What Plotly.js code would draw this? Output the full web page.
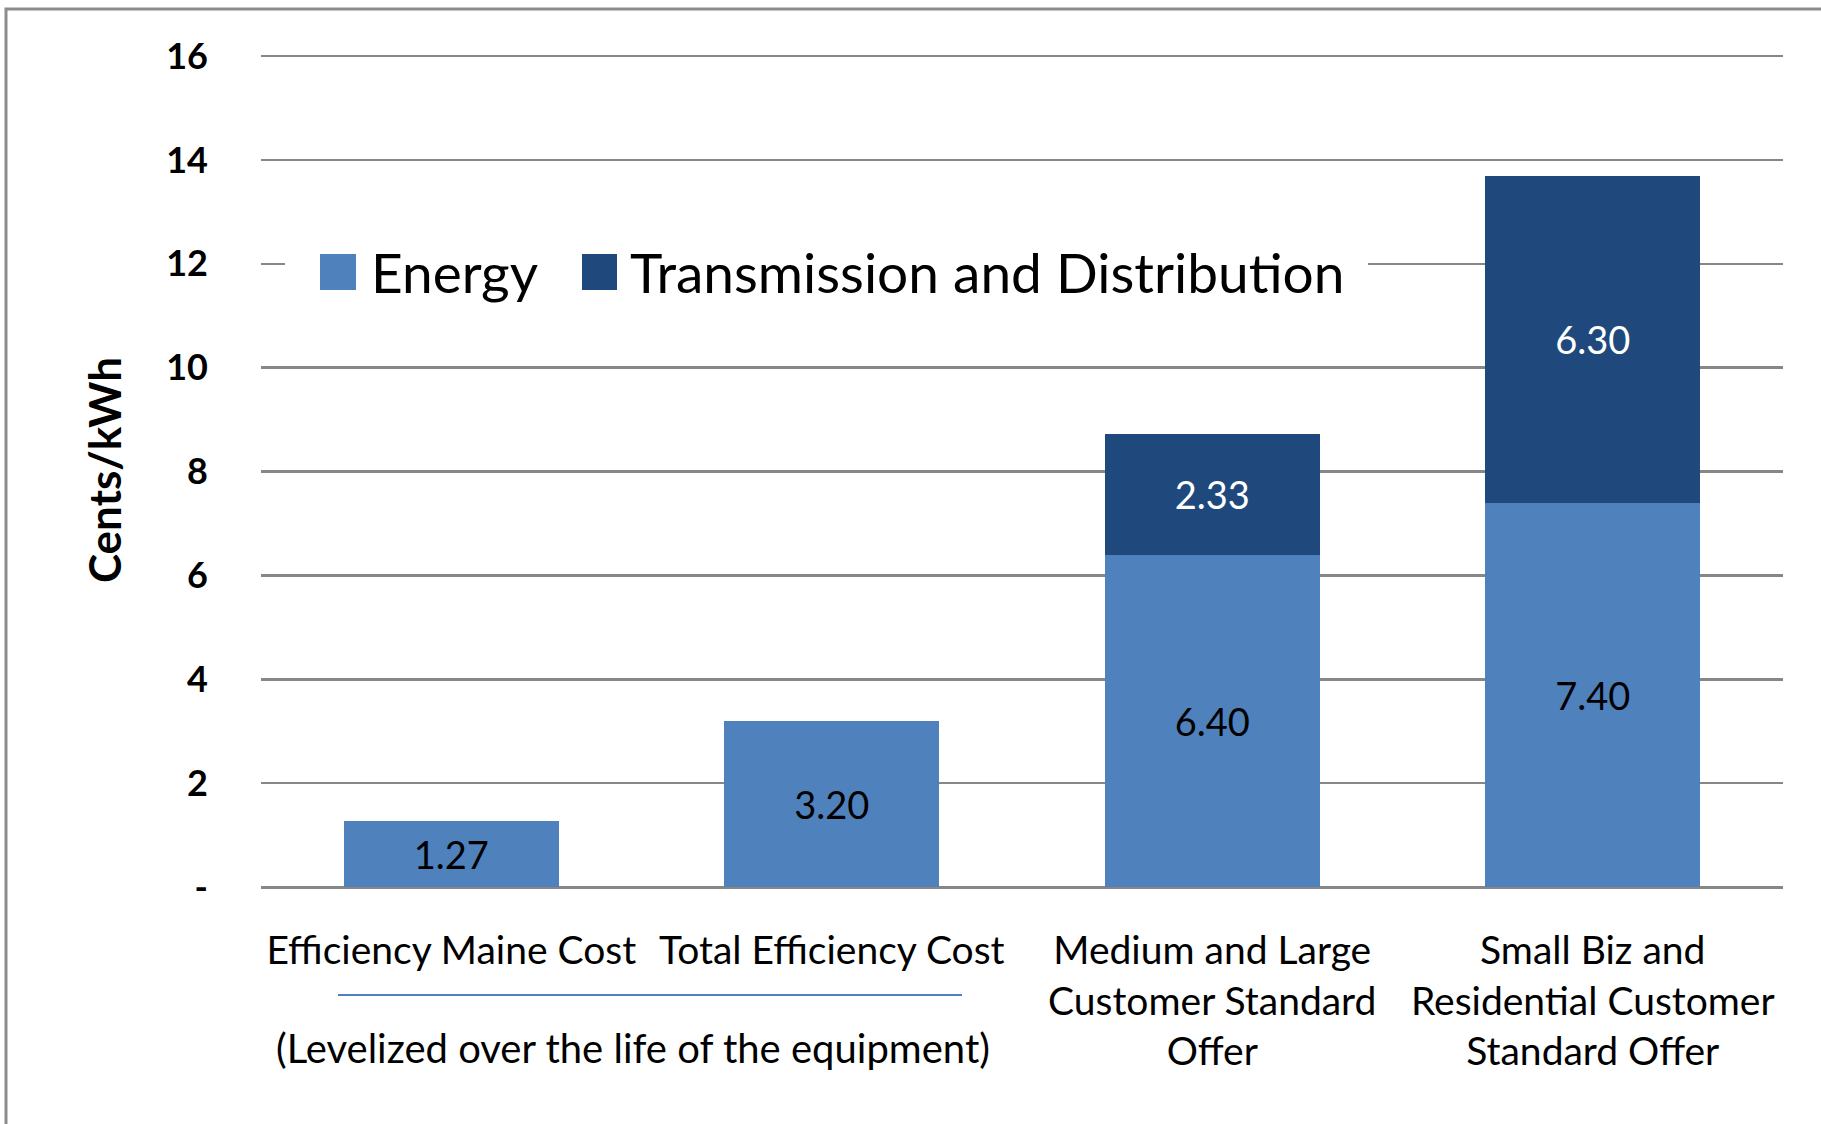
<!DOCTYPE html>
<html><head><meta charset="utf-8">
<script src="https://cdn.plot.ly/plotly-3.0.1.min.js"></script>
<style>html,body{margin:0;padding:0;background:#fff;overflow:hidden}</style>
</head><body><div id="chart" style="width:1821px;height:1124px"></div>
<script>
const categories = ["Efficiency Maine Cost", "Total Efficiency Cost", "Medium and Large<br>Customer Standard<br>Offer", "Small Biz and<br>Residential Customer<br>Standard Offer"];
const energyValues = [1.27, 3.20, 6.40, 7.40];
const tdValues = [null, null, 2.33, 6.30];
const seriesNames = ["Energy", "Transmission and Distribution"];
const seriesColors = ["#4F81BD", "#1F497D"];
const yTickVals = [0, 2, 4, 6, 8, 10, 12, 14, 16];
const yTickText = ["-", "2", "4", "6", "8", "10", "12", "14", "16"];
const yTitle = "Cents/kWh";
const footnote = "(Levelized over the life of the equipment)";

const W = 1821, H = 1124;
const M = {l: 261, r: 38, t: 53, b: 237};
const PW = W - M.l - M.r, PH = H - M.t - M.b;
const px = x => (x - M.l) / PW;
const py = y => (H - M.b - y) / PH;
const FONT = "Lato, 'Open Sans', sans-serif";

const fmt = v => v == null ? "" : v.toFixed(2);

const traces = [
  {type: "bar", name: seriesNames[0], x: categories, y: energyValues,
   marker: {color: seriesColors[0]}, text: energyValues.map(fmt),
   textposition: "inside", insidetextanchor: "middle", constraintext: "none", textangle: 0,
   textfont: {family: FONT, size: 38, color: "#000"}, hoverinfo: "skip", showlegend: false},
  {type: "bar", name: seriesNames[1], x: categories, y: tdValues,
   marker: {color: seriesColors[1]}, text: tdValues.map(fmt),
   textposition: "inside", insidetextanchor: "middle", constraintext: "none", textangle: 0,
   textfont: {family: FONT, size: 38, color: "#fff"}, hoverinfo: "skip", showlegend: false}
];

const layout = {
  width: W, height: H, margin: M,
  paper_bgcolor: "#fff", plot_bgcolor: "#fff",
  barmode: "stack", bargap: 0.435,
  font: {family: FONT, color: "#000"},
  showlegend: false,
  xaxis: {type: "category", tickfont: {family: FONT, size: 39, color: "#000"},
          ticks: "", ticklabelstandoff: 37, showgrid: false, showline: false, zeroline: false, fixedrange: true},
  yaxis: {range: [0, 16.06], tickvals: yTickVals, ticktext: yTickText,
          tickfont: {family: FONT, size: 36, color: "#000", weight: "bold"},
          ticks: "", ticklabelstandoff: 52,
          gridcolor: "#878787", gridwidth: 2.5, zeroline: true, zerolinecolor: "#878787", zerolinewidth: 3,
          showline: false, fixedrange: true,
          title: {text: yTitle, font: {family: FONT, size: 44, color: "#000", weight: "bold"}, standoff: 30}},
  shapes: [
    {type: "rect", xref: "paper", yref: "paper", x0: px(6), x1: px(1900), y0: py(1200), y1: py(9),
     line: {color: "#8c8c8c", width: 3}, fillcolor: "rgba(0,0,0,0)", layer: "below"},
    {type: "rect", xref: "paper", yref: "paper", x0: px(285), x1: px(1368), y0: py(306), y1: py(236),
     line: {width: 0}, fillcolor: "#fff", layer: "above"},
    {type: "rect", xref: "paper", yref: "paper", x0: px(320), x1: px(356), y0: py(290), y1: py(254),
     line: {width: 0}, fillcolor: seriesColors[0], layer: "above"},
    {type: "rect", xref: "paper", yref: "paper", x0: px(582), x1: px(617), y0: py(290), y1: py(254),
     line: {width: 0}, fillcolor: seriesColors[1], layer: "above"},
    {type: "line", xref: "paper", yref: "paper", x0: px(338), x1: px(962), y0: py(995), y1: py(995),
     line: {color: "#4F81BD", width: 2}}
  ],
  annotations: [
    {xref: "paper", yref: "paper", x: px(369), y: py(272), xanchor: "left", yanchor: "middle",
     text: seriesNames[0], showarrow: false, font: {family: FONT, size: 55, color: "#000"}},
    {xref: "paper", yref: "paper", x: px(628), y: py(272), xanchor: "left", yanchor: "middle",
     text: seriesNames[1], showarrow: false, font: {family: FONT, size: 55, color: "#000"}},
    {xref: "paper", yref: "paper", x: px(633), y: py(1048), xanchor: "center", yanchor: "middle",
     text: footnote, showarrow: false, font: {family: FONT, size: 40, color: "#000"}}
  ]
};

Plotly.newPlot("chart", traces, layout, {staticPlot: true, displayModeBar: false});
</script></body></html>
